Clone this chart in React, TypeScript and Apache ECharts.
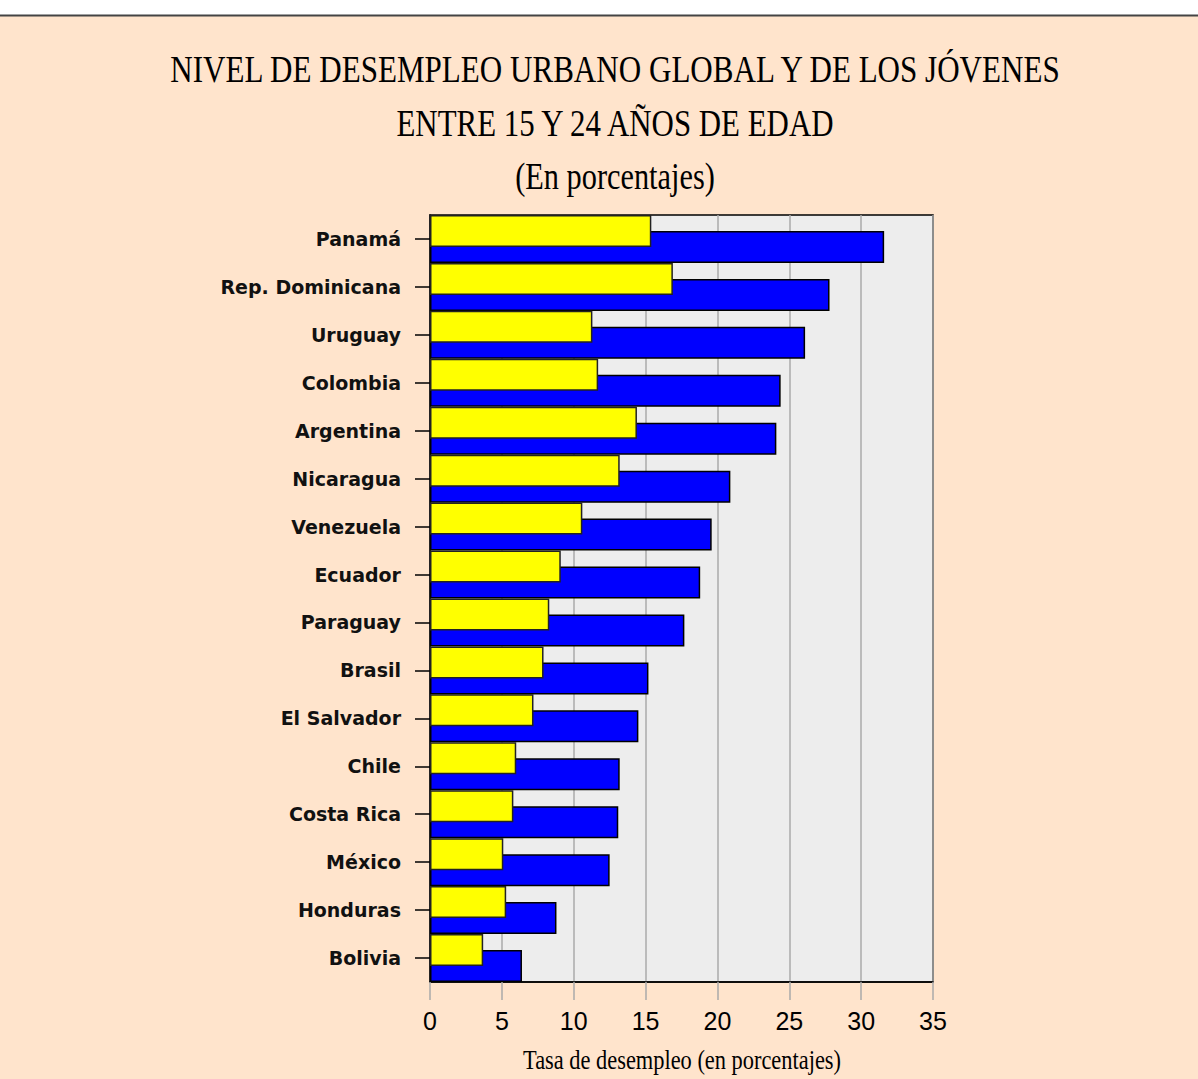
import React, { useEffect, useRef } from "react";
import * as echarts from "echarts";

const categories = [
  "Panamá",
  "Rep. Dominicana",
  "Uruguay",
  "Colombia",
  "Argentina",
  "Nicaragua",
  "Venezuela",
  "Ecuador",
  "Paraguay",
  "Brasil",
  "El Salvador",
  "Chile",
  "Costa Rica",
  "México",
  "Honduras",
  "Bolivia",
];

// Desempleo urbano global (amarillo)
const globalValues = [15.4, 16.9, 11.3, 11.7, 14.4, 13.2, 10.6, 9.1, 8.3, 7.9, 7.2, 6.0, 5.8, 5.1, 5.3, 3.7];
// Desempleo de jóvenes de 15 a 24 años (azul)
const youthValues = [31.6, 27.8, 26.1, 24.4, 24.1, 20.9, 19.6, 18.8, 17.7, 15.2, 14.5, 13.2, 13.1, 12.5, 8.8, 6.4];

const xTicks = [0, 5, 10, 15, 20, 25, 30, 35];

const titleLines = [
  "NIVEL DE DESEMPLEO URBANO GLOBAL Y DE LOS JÓVENES",
  "ENTRE 15 Y 24 AÑOS DE EDAD",
  "(En porcentajes)",
];
const xAxisTitle = "Tasa de desempleo (en porcentajes)";

export default function App() {
  const ref = useRef<HTMLDivElement>(null);

  useEffect(() => {
    if (!ref.current) return;
    const chart = echarts.init(ref.current, null, { renderer: "svg" });
    const serif = "'Liberation Serif', 'Times New Roman', serif";
    const titleY = [70, 124, 176];
    const titleScale = [0.84, 0.835, 0.82];
    chart.setOption({
      animation: false,
      backgroundColor: "#FFE4CC",
      graphic: [
        {
          type: "rect",
          left: 0,
          top: 0,
          shape: { width: 1198, height: 15 },
          style: { fill: "#ffffff" },
          silent: true,
        },
        {
          type: "line",
          shape: { x1: 0, y1: 15.5, x2: 1198, y2: 15.5 },
          style: { stroke: "#444444", lineWidth: 2 },
          silent: true,
        },
        ...titleLines.map((t, i) => ({
          type: "text",
          x: 615,
          y: titleY[i],
          scaleX: titleScale[i],
          style: {
            text: t,
            fill: "#000",
            font: `37px ${serif}`,
            textAlign: "center",
            textVerticalAlign: "middle",
          },
          silent: true,
        })),
        {
          type: "text",
          x: 682,
          y: 1059,
          scaleX: 0.8,
          style: {
            text: xAxisTitle,
            fill: "#000",
            font: `28px ${serif}`,
            textAlign: "center",
            textVerticalAlign: "middle",
          },
          silent: true,
        },
      ],
      grid: {
        left: 430,
        top: 215,
        right: 265,
        bottom: 97,
        show: true,
        backgroundColor: "#EDEDED",
        borderColor: "#000",
        borderWidth: 1.5,
        containLabel: false,
      },
      xAxis: {
        type: "value",
        min: 0,
        max: 35,
        interval: 5,
        axisLine: { show: true, lineStyle: { color: "#000", width: 1.5 } },
        axisTick: { show: true, length: 18, lineStyle: { color: "#AAAAAA", width: 1.5 } },
        splitLine: { show: true, lineStyle: { color: "#AAAAAA", width: 1.5 } },
        axisLabel: {
          margin: 26,
          color: "#000",
          fontSize: 25,
          fontFamily: "'Liberation Sans', Arial, sans-serif",
          formatter: (v: number) => (xTicks.includes(v) ? String(v) : ""),
        },
      },
      yAxis: {
        type: "category",
        data: categories,
        inverse: true,
        axisLine: { show: true, lineStyle: { color: "#000", width: 1.5 } },
        axisTick: { show: true, alignWithLabel: true, length: 15, lineStyle: { color: "#000", width: 1.5 } },
        axisLabel: {
          margin: 29,
          color: "#111",
          fontSize: 19,
          fontWeight: "bold",
          fontFamily: "'DejaVu Sans', sans-serif",
        },
        splitLine: { show: false },
      },
      series: [
        {
          name: "Global",
          type: "bar",
          data: globalValues,
          barWidth: 32,
          barGap: "-50%",
          z: 3,
          itemStyle: { color: "#FFFF00", borderColor: "#222", borderWidth: 1.5 },
        },
        {
          name: "Jóvenes 15-24",
          type: "bar",
          data: youthValues,
          barWidth: 32,
          barGap: "-50%",
          z: 2,
          itemStyle: { color: "#0000FF", borderColor: "#000", borderWidth: 1.5 },
        },
      ],
    });
    return () => chart.dispose();
  }, []);

  return (
    <div
      ref={ref}
      style={{ position: "fixed", left: 0, top: 0, width: 1198, height: 1079 }}
    />
  );
}
